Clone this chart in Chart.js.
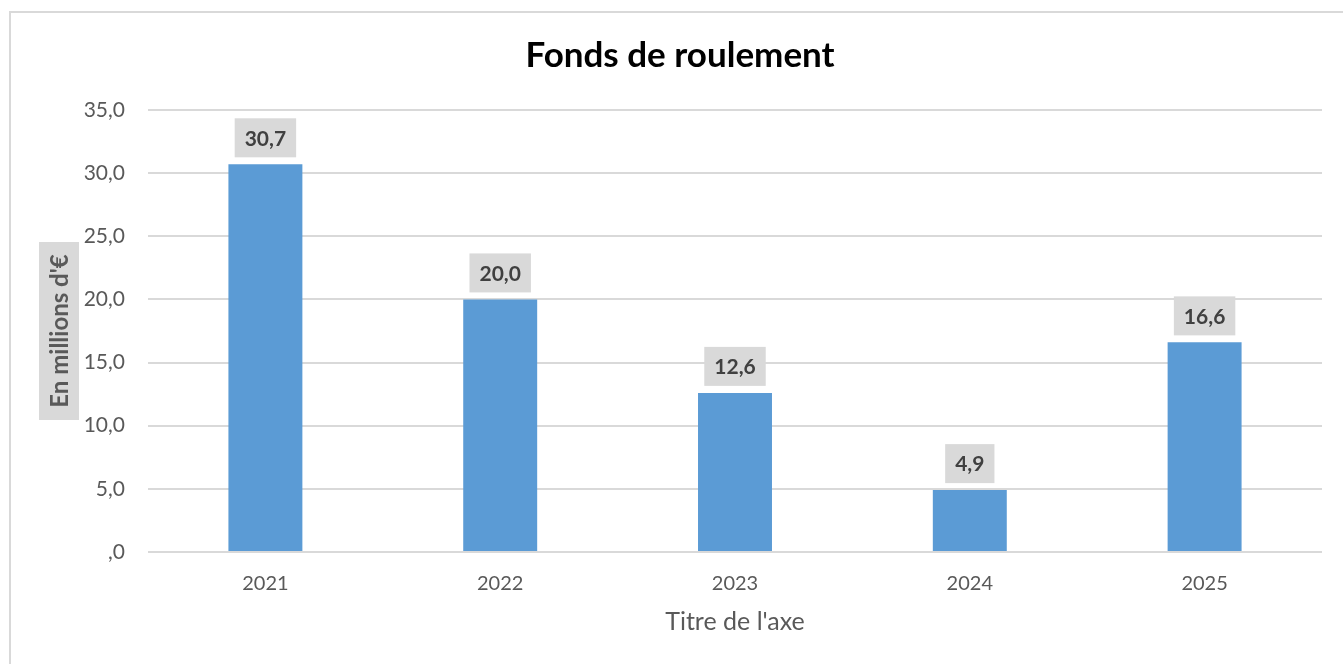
<!DOCTYPE html>
<html>
<head>
<meta charset="utf-8">
<script src="https://cdn.jsdelivr.net/npm/chart.js@4"></script>
<style>
  html, body { margin: 0; padding: 0; background: #fff; overflow: hidden; }
  #frame { position: absolute; left: 9px; top: 11px; width: 1400px; height: 700px;
           border-left: 2px solid #d9d9d9; border-top: 2px solid #d9d9d9; }
  #wrap { position: absolute; left: 0; top: 0; width: 1343px; height: 664px; }
</style>
</head>
<body>
<div id="frame"></div>
<div id="wrap"><canvas id="c" width="1343" height="664"></canvas></div>
<script>
const categories = ['2021', '2022', '2023', '2024', '2025'];
const values = [30.7, 20.0, 12.6, 4.9, 16.6];
const yTicks = [0, 5, 10, 15, 20, 25, 30, 35];
const chartTitle = 'Fonds de roulement';
const yTitle = "En millions d'€";
const xTitle = "Titre de l'axe";

const FONT = 'Lato, "Open Sans", sans-serif';
const fmt = v => v === 0 ? ',0' : v.toFixed(1).replace('.', ',');

const labelPlugin = {
  id: 'labelBoxes',
  afterDatasetsDraw(chart) {
    const ctx = chart.ctx;
    const meta = chart.getDatasetMeta(0);
    ctx.save();
    ctx.font = 'bold 21px ' + FONT;
    ctx.textAlign = 'center';
    ctx.textBaseline = 'middle';
    meta.data.forEach((bar, i) => {
      const txt = fmt(values[i]);
      const w = ctx.measureText(txt).width + 20;
      const h = 39;
      const bottom = bar.y - 7;
      ctx.fillStyle = '#d9d9d9';
      ctx.fillRect(bar.x - w / 2, bottom - h, w, h);
      ctx.fillStyle = '#404040';
      ctx.fillText(txt, bar.x, bottom - h / 2 + 1);
    });
    ctx.restore();
  }
};

const yTitlePlugin = {
  id: 'yTitleBox',
  afterDraw(chart) {
    const ctx = chart.ctx;
    const y = chart.scales.y;
    const cy = (y.top + y.bottom) / 2;
    ctx.save();
    ctx.translate(59, cy);
    ctx.rotate(-Math.PI / 2);
    ctx.fillStyle = '#d9d9d9';
    ctx.fillRect(-89, -20, 178, 40);
    ctx.font = 'bold 24px ' + FONT;
    ctx.fillStyle = '#595959';
    ctx.textAlign = 'center';
    ctx.textBaseline = 'middle';
    ctx.fillText(yTitle, 0, 1);
    ctx.restore();
  }
};

new Chart(document.getElementById('c'), {
  type: 'bar',
  data: {
    labels: categories,
    datasets: [{
      data: values,
      backgroundColor: '#5b9bd5',
      borderWidth: 0,
      categoryPercentage: 1,
      barPercentage: 0.315
    }]
  },
  options: {
    responsive: false,
    animation: false,
    layout: { padding: { left: 38, right: 21, top: 0, bottom: 0 } },
    plugins: {
      legend: { display: false },
      tooltip: { enabled: false },
      title: {
        display: true,
        text: chartTitle,
        color: '#000',
        font: { family: FONT, size: 35, weight: 'bold', lineHeight: 1.2 },
        padding: { top: 35, bottom: 33 }
      }
    },
    scales: {
      x: {
        grid: { display: false, drawTicks: false },
        border: { display: false },
        ticks: { color: '#595959', font: { family: FONT, size: 20 }, padding: 20 },
        title: {
          display: true, text: xTitle, color: '#595959',
          font: { family: FONT, size: 25, lineHeight: 1.2 },
          padding: { top: 0, bottom: 27 }
        },
        afterFit(s) { s.height = 112; }
      },
      y: {
        min: 0, max: 35,
        afterBuildTicks(s) { s.ticks = yTicks.map(v => ({ value: v })); },
        grid: { color: '#d9d9d9', lineWidth: 2, drawTicks: false },
        border: { display: false },
        ticks: { color: '#595959', font: { family: FONT, size: 21 }, padding: 23,
                 callback: v => fmt(v) },
        afterFit(s) { s.width = 110; }
      }
    }
  },
  plugins: [labelPlugin, yTitlePlugin]
});
</script>
</body>
</html>
